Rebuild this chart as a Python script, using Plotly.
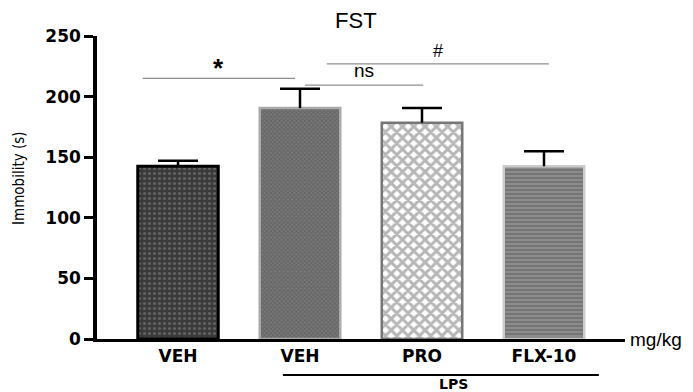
import plotly.graph_objects as go

categories = ["VEH", "VEH", "PRO", "FLX-10"]
means = [142.5, 190.5, 178.5, 142.5]
errors = [4.5, 16.0, 12.0, 12.5]
y_ticks = [0, 50, 100, 150, 200, 250]

# significance brackets
sig_x0 = [-0.29, 1.04, 1.22]
sig_x1 = [0.96, 2.01, 3.04]
sig_y = [215, 209.5, 227]
sig_label = ["<b>*</b>", "ns", "#"]
sig_label_y = [224, 221.5, 237.5]
sig_size = [26, 19, 18]

bar_bg = ["#3a3a3a", "#7a7a7a", "#ffffff", "#8c8c8c"]
bar_fg = ["#8a8a8a", "#4a4a4a", "#6e6e6e", "#5e5e5e"]
bar_line = ["#000000", "#aaaaaa", "#777777", "#cccccc"]
pat_shape = [".", "x", "x", "-"]
pat_size = [5, 3, 8, 4]
pat_sol = [0.3, 0.5, 0.6, 0.5]

CAP_HALF = 0.164

fig = go.Figure()
xs = list(range(len(categories)))
for i in xs:
    fig.add_trace(go.Bar(
        x=[i], y=[means[i]],
        width=0.66,
        marker=dict(
            color=bar_bg[i],
            line=dict(color=bar_line[i], width=3 if i == 0 else 2.5),
            pattern=dict(shape=pat_shape[i], bgcolor=bar_bg[i], fgcolor=bar_fg[i],
                         size=pat_size[i], solidity=pat_sol[i], fillmode="overlay"),
        ),
        showlegend=False,
        hoverinfo="skip",
    ))

# upper-only error bars (stem + cap) from means and errors
ex, ey = [], []
for i in xs:
    top = means[i] + errors[i]
    ex += [i, i, None, i - CAP_HALF, i + CAP_HALF, None]
    ey += [means[i], top, None, top, top, None]
fig.add_trace(go.Scatter(x=ex, y=ey, mode="lines", line=dict(color="#000000", width=2.5),
                         showlegend=False, hoverinfo="skip", cliponaxis=False))

for x0, x1, yy, lab, ly, fs in zip(sig_x0, sig_x1, sig_y, sig_label, sig_label_y, sig_size):
    fig.add_shape(type="line", x0=x0, x1=x1, y0=yy, y1=yy, xref="x", yref="y",
                  line=dict(color="#8f8f8f", width=1.3))
    fig.add_annotation(x=(x0 + x1) / 2, y=ly, text=lab, showarrow=False, xref="x", yref="y",
                       xanchor="center", yanchor="middle",
                       font=dict(size=fs, color="#000000", family="Liberation Sans"))

# LPS bar below the axis
fig.add_shape(type="line", x0=0.86, x1=3.45, y0=-0.119, y1=-0.119, xref="x", yref="paper",
              line=dict(color="#000000", width=2))
fig.add_annotation(x=2.26, y=-0.149, text="<b>LPS</b>", showarrow=False, xref="x", yref="paper",
                   xanchor="center", yanchor="middle",
                   font=dict(size=14, color="#000000", family="DejaVu Sans"))
fig.add_annotation(x=1.006, y=0, text="mg/kg", showarrow=False, xref="paper", yref="paper",
                   xanchor="left", yanchor="middle",
                   font=dict(size=19, color="#000000", family="Liberation Sans"))
fig.add_annotation(x=-0.148, y=0.531, text="Immobility (s)", showarrow=False,
                   xref="paper", yref="paper", textangle=-90,
                   xanchor="center", yanchor="middle",
                   font=dict(size=15, color="#000000",
                             family="DejaVu Sans Condensed, Liberation Sans"))

# the page adds an 8px body margin, so margins are reduced accordingly
fig.update_layout(
    width=693, height=392,
    margin=dict(l=89, r=76, t=28, b=61),
    paper_bgcolor="white", plot_bgcolor="white",
    title=dict(text="FST", x=0.502, xanchor="center", y=0.969, yanchor="middle",
               font=dict(size=22, color="#000000", family="Liberation Sans")),
)
fig.update_xaxes(
    range=[-0.664, 3.664], automargin=False,
    tickvals=xs, ticktext=["<b>%s</b>" % c for c in categories],
    showline=True, linecolor="#000000", linewidth=2.5,
    ticks="", showgrid=False, zeroline=False,
    tickfont=dict(size=17, color="#000000", family="DejaVu Sans"),
    fixedrange=True,
)
fig.update_yaxes(
    range=[0, 250], automargin=False, tickvals=y_ticks, ticktext=["<b>%d</b>" % v for v in y_ticks],
    showline=True, linecolor="#000000", linewidth=3.5,
    ticks="outside", ticklen=9, tickwidth=2.5, tickcolor="#000000",
    showgrid=False, zeroline=False,
    tickfont=dict(size=17, color="#000000", family="DejaVu Sans"),
    fixedrange=True,
)

fig.write_html("out.html")
